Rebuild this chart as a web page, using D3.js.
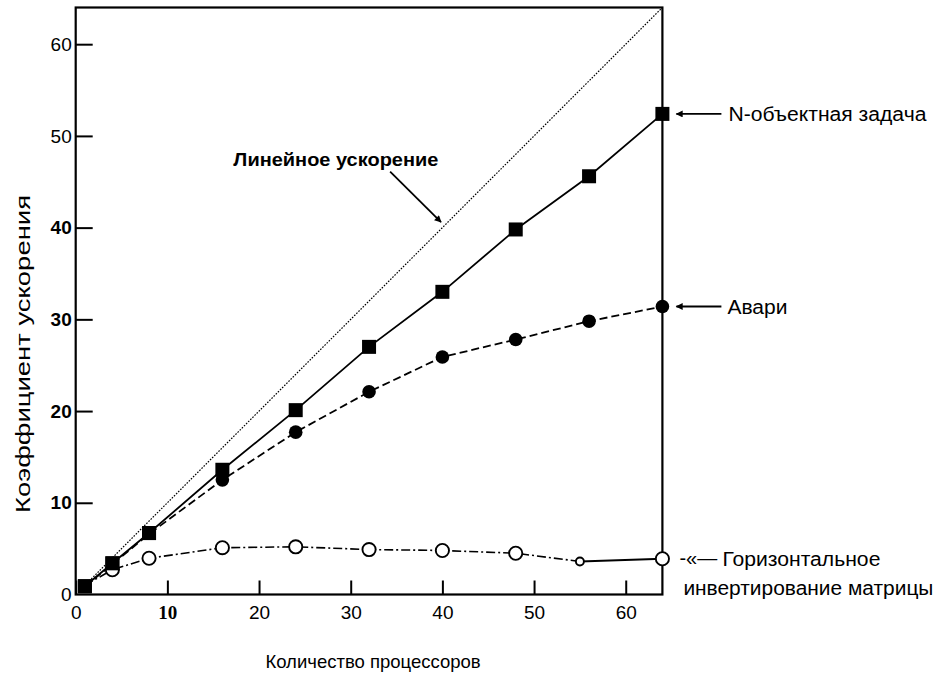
<!DOCTYPE html>
<html>
<head>
<meta charset="utf-8">
<script src="https://cdn.jsdelivr.net/npm/d3@7/dist/d3.min.js"></script>
<style>
  html, body { margin: 0; padding: 0; background: #fff; }
  svg { display: block; }
  text { font-family: "Liberation Sans", Arial, Helvetica, sans-serif; fill: #000; }
</style>
</head>
<body>
<svg id="chart" width="936" height="674"></svg>
<script>
// ---------------- data ----------------
const xTicks = [0, 10, 20, 30, 40, 50, 60];
const yTicks = [0, 10, 20, 30, 40, 50, 60];
const xBoldSerifTicks = [10];
const yBoldTicks = [10, 20, 30, 40];

const procs = [1, 4, 8, 16, 24, 32, 40, 48, 56, 64];
const nbody = [0.9, 3.4, 6.7, 13.6, 20.1, 27.0, 33.0, 39.8, 45.6, 52.4];
const avari = [0.9, 3.3, 6.6, 12.5, 17.7, 22.1, 25.9, 27.8, 29.8, 31.4];

const matrixProcs = [1, 4, 8, 16, 24, 32, 40, 48, 55, 64];
const matrix = [1.0, 2.7, 3.95, 5.1, 5.2, 4.9, 4.8, 4.5, 3.6, 3.9];
const matrixSmall = [55];

const linearProcs = [1, 64];
const linear = [1, 64];

const xTitle = "Количество процессоров";
const yTitle = "Коэффициент ускорения";
const linearLabel = "Линейное ускорение";
const linearLabelPos = [17.2, 47.4];
const linearArrow = [[34.3, 46.1], [39.85, 40.6]];
const nbodyLabel = "N-объектная задача";
const avariLabel = "Авари";
const matrixLabel1 = "Горизонтальное";
const matrixLabel2 = "инвертирование матрицы";
const matrixArrowGlyph = "-«—";

// ---------------- layout ----------------
const svg = d3.select("#chart");
const x = d3.scaleLinear().domain([0, 64]).range([75.7, 662.4]);
const y = d3.scaleLinear().domain([0, 64]).range([594.5, 7.5]);

const defs = svg.append("defs");
defs.append("marker")
  .attr("id", "ah").attr("viewBox", "0 0 10 10")
  .attr("refX", 9).attr("refY", 5)
  .attr("markerWidth", 9).attr("markerHeight", 7)
  .attr("markerUnits", "userSpaceOnUse")
  .attr("orient", "auto")
  .append("path").attr("d", "M0,0 L10,5 L0,10 Z").attr("fill", "#000");

// frame
svg.append("rect")
  .attr("x", x(0)).attr("y", y(64))
  .attr("width", x(64) - x(0)).attr("height", y(0) - y(64))
  .attr("fill", "none").attr("stroke", "#000").attr("stroke-width", 2.2);

// axes
const xAxis = d3.axisBottom(x).tickValues(xTicks).tickSize(-14).tickSizeOuter(0).tickPadding(11.5);
const gx = svg.append("g").attr("transform", `translate(0,${y(0)})`).call(xAxis);
gx.select(".domain").remove();
gx.selectAll(".tick line").attr("stroke", "#000").attr("stroke-width", 2);
gx.selectAll(".tick text")
  .attr("font-size", 19)
  .style("font-family", d => xBoldSerifTicks.includes(d) ? "'Liberation Serif', 'Times New Roman', serif" : null)
  .attr("font-weight", d => xBoldSerifTicks.includes(d) ? "bold" : null);

const yAxis = d3.axisLeft(y).tickValues(yTicks).tickSize(-17).tickSizeOuter(0).tickPadding(4);
const gy = svg.append("g").attr("transform", `translate(${x(0)},0)`).call(yAxis);
gy.select(".domain").remove();
gy.selectAll(".tick line").attr("stroke", "#000").attr("stroke-width", 2);
gy.selectAll(".tick text")
  .attr("font-size", 19)
  .attr("font-weight", d => yBoldTicks.includes(d) ? "bold" : null);
gy.selectAll(".tick").filter(d => d === 0).select("line").remove();

// titles
svg.append("text")
  .attr("x", (x(0) + x(64)) / 2 + 4).attr("y", 668)
  .attr("text-anchor", "middle").attr("font-size", 18.5)
  .text(xTitle);
svg.append("text")
  .attr("transform", `translate(30,${354}) rotate(-90)`)
  .attr("text-anchor", "middle").attr("font-size", 21)
  .attr("textLength", 318).attr("lengthAdjust", "spacingAndGlyphs")
  .text(yTitle);

// lines
const line = d3.line().x(d => x(d[0])).y(d => y(d[1]));

svg.append("path")
  .datum(d3.zip(linearProcs, linear))
  .attr("d", line).attr("fill", "none").attr("stroke", "#000")
  .attr("stroke-width", 1.2).attr("stroke-dasharray", "1.6,1.4");

svg.append("path")
  .datum(d3.zip(procs, nbody))
  .attr("d", line).attr("fill", "none").attr("stroke", "#000")
  .attr("stroke-width", 1.8);

svg.append("path")
  .datum(d3.zip(procs, avari))
  .attr("d", line).attr("fill", "none").attr("stroke", "#000")
  .attr("stroke-width", 1.8).attr("stroke-dasharray", "8,4");

const mPts = d3.zip(matrixProcs, matrix);
svg.append("path")
  .datum(mPts.slice(0, mPts.length - 1))
  .attr("d", line).attr("fill", "none").attr("stroke", "#000")
  .attr("stroke-width", 1.6).attr("stroke-dasharray", "9,3,2,3");
svg.append("path")
  .datum(mPts.slice(mPts.length - 2))
  .attr("d", line).attr("fill", "none").attr("stroke", "#000")
  .attr("stroke-width", 1.8);

// markers
const sq = 14;
svg.append("g").selectAll("rect")
  .data(d3.zip(procs, nbody))
  .join("rect")
  .attr("x", d => x(d[0]) - sq / 2).attr("y", d => y(d[1]) - sq / 2)
  .attr("width", sq).attr("height", sq).attr("fill", "#000");

svg.append("g").selectAll("circle")
  .data(d3.zip(procs, avari).filter(d => d[0] >= 16))
  .join("circle")
  .attr("cx", d => x(d[0])).attr("cy", d => y(d[1]))
  .attr("r", 6.8).attr("fill", "#000");

svg.append("g").selectAll("circle")
  .data(mPts.filter(d => d[0] > 1))
  .join("circle")
  .attr("cx", d => x(d[0])).attr("cy", d => y(d[1]))
  .attr("r", d => matrixSmall.includes(d[0]) ? 4 : 6.6)
  .attr("fill", "#fff").attr("stroke", "#000").attr("stroke-width", 1.9);

// square markers at low x drawn again so they sit above the circles
svg.append("g").selectAll("rect")
  .data(d3.zip(procs, nbody).filter(d => d[0] <= 8))
  .join("rect")
  .attr("x", d => x(d[0]) - sq / 2).attr("y", d => y(d[1]) - sq / 2)
  .attr("width", sq).attr("height", sq).attr("fill", "#000");

// annotations
svg.append("text")
  .attr("x", x(linearLabelPos[0])).attr("y", y(linearLabelPos[1]) + 6)
  .attr("font-size", 17.5).attr("font-weight", "bold")
  .attr("textLength", 205).attr("lengthAdjust", "spacingAndGlyphs")
  .text(linearLabel);
svg.append("line")
  .attr("x1", x(linearArrow[0][0])).attr("y1", y(linearArrow[0][1]))
  .attr("x2", x(linearArrow[1][0])).attr("y2", y(linearArrow[1][1]))
  .attr("stroke", "#000").attr("stroke-width", 1.8)
  .attr("marker-end", "url(#ah)");

const lastX = x(64);
function sideArrow(yv) {
  svg.append("line")
    .attr("x1", lastX + 59).attr("y1", y(yv))
    .attr("x2", lastX + 14).attr("y2", y(yv))
    .attr("stroke", "#000").attr("stroke-width", 1.8)
    .attr("marker-end", "url(#ah)");
}
sideArrow(nbody[nbody.length - 1]);
svg.append("text")
  .attr("x", lastX + 66).attr("y", y(nbody[nbody.length - 1]) + 7)
  .attr("font-size", 20).attr("textLength", 198).attr("lengthAdjust", "spacingAndGlyphs")
  .text(nbodyLabel);

sideArrow(avari[avari.length - 1]);
svg.append("text")
  .attr("x", lastX + 65).attr("y", y(avari[avari.length - 1]) + 7)
  .attr("font-size", 20).attr("textLength", 60).attr("lengthAdjust", "spacingAndGlyphs")
  .text(avariLabel);

const my = y(matrix[matrix.length - 1]);
svg.append("text")
  .attr("x", lastX + 17).attr("y", my + 6)
  .attr("font-size", 20)
  .text(matrixArrowGlyph);
svg.append("text")
  .attr("x", lastX + 60).attr("y", my + 7)
  .attr("font-size", 20).attr("textLength", 158).attr("lengthAdjust", "spacingAndGlyphs")
  .text(matrixLabel1);
svg.append("text")
  .attr("x", lastX + 21).attr("y", my + 36)
  .attr("font-size", 20).attr("textLength", 250).attr("lengthAdjust", "spacingAndGlyphs")
  .text(matrixLabel2);
</script>
</body>
</html>
